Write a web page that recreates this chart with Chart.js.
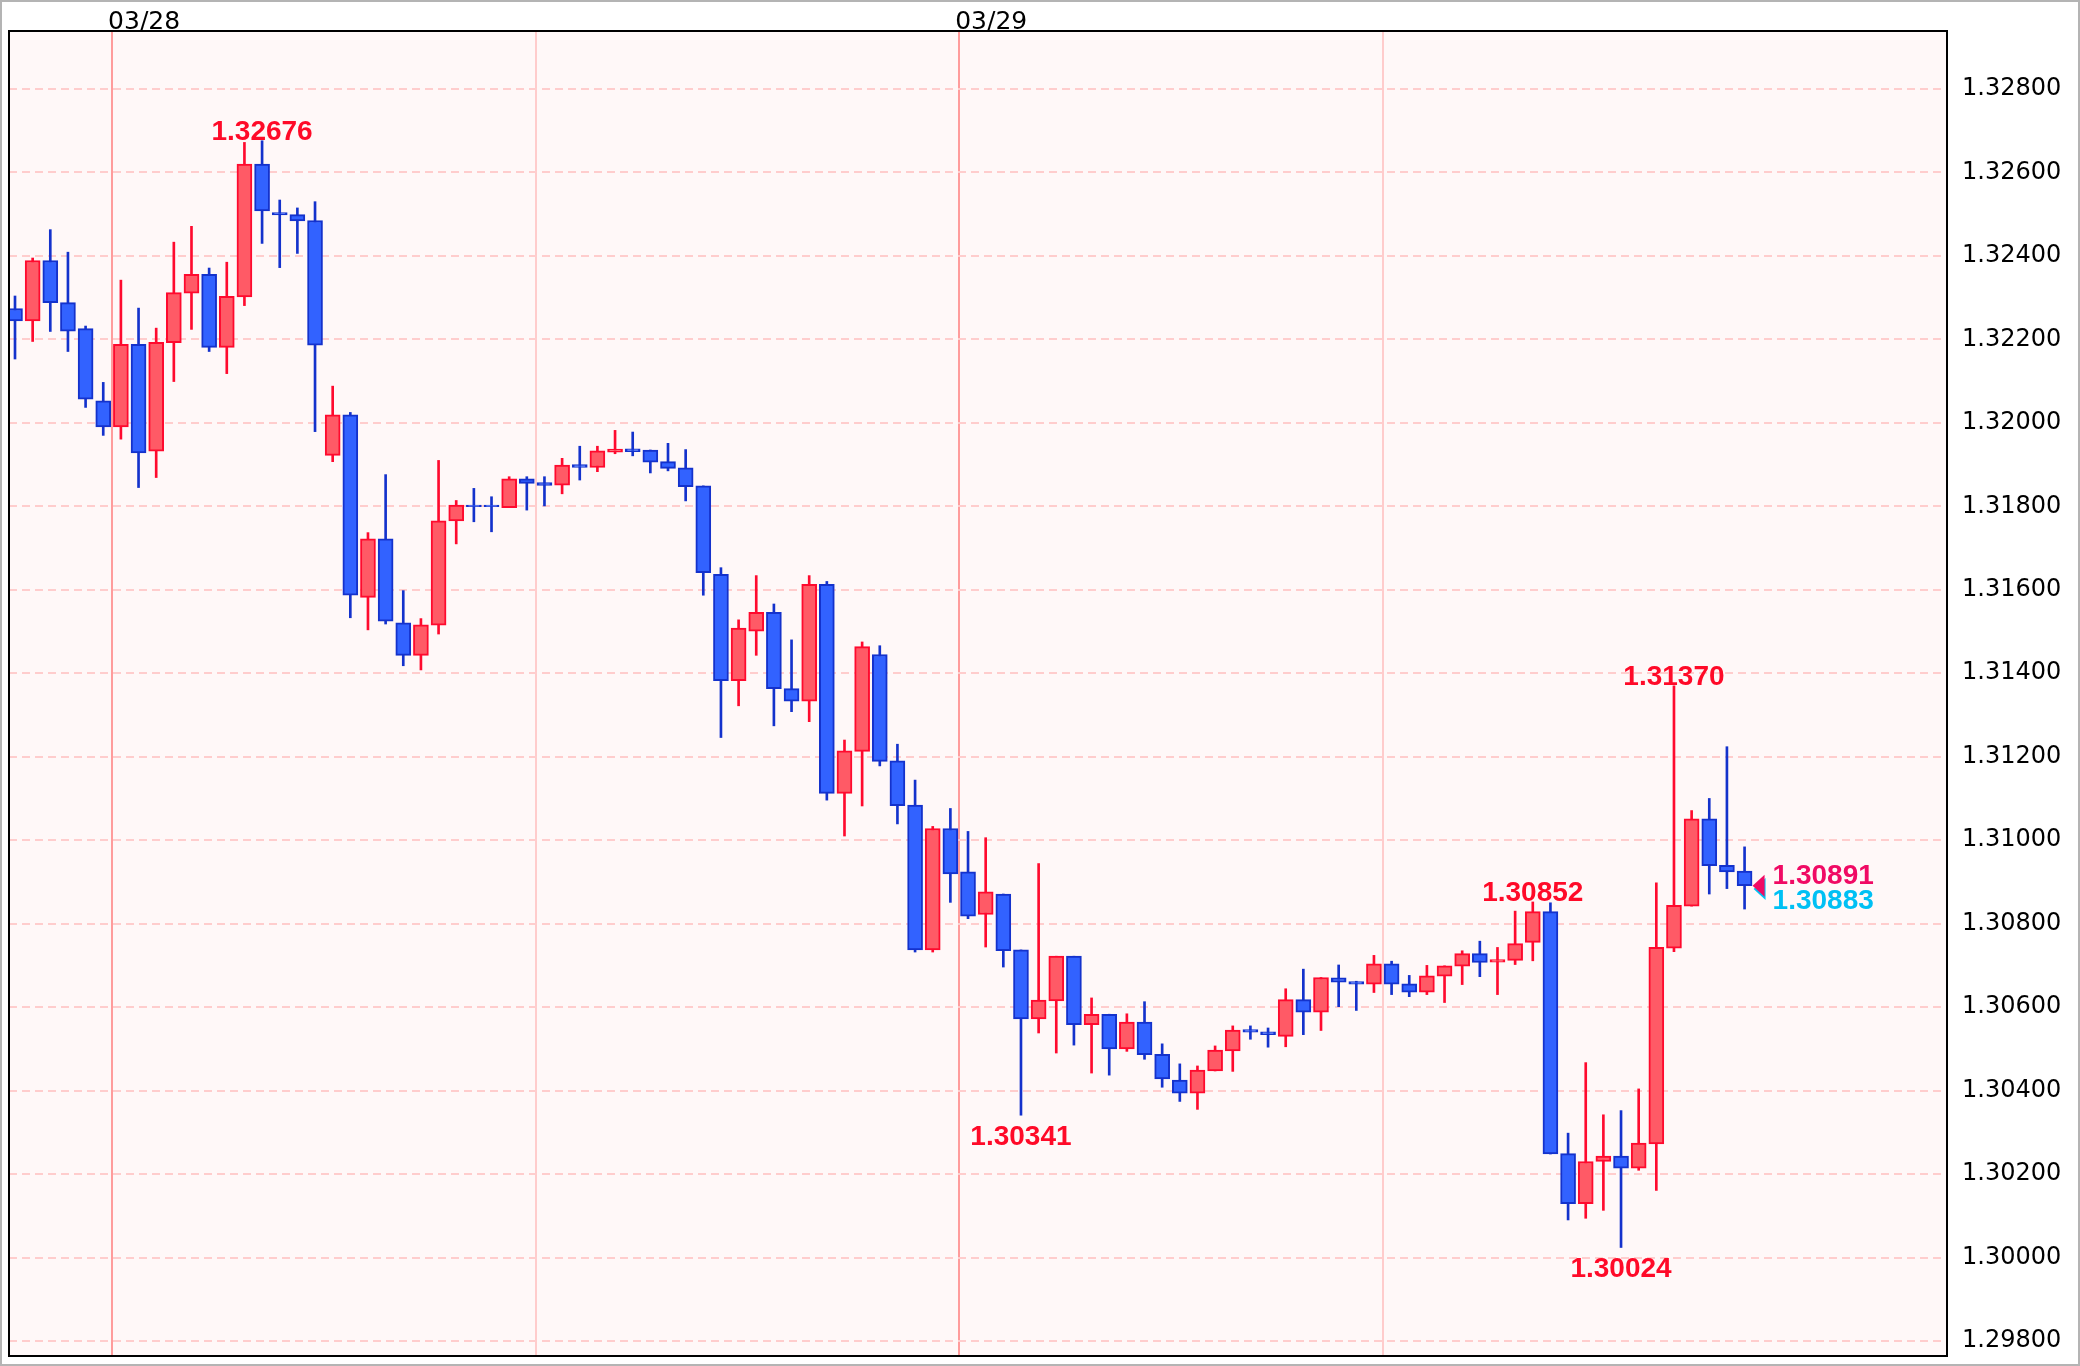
<!DOCTYPE html>
<html>
<head>
<meta charset="utf-8">
<title>GBP/USD 30min</title>
<script src="https://cdn.jsdelivr.net/npm/chart.js@4.4.1/dist/chart.umd.min.js"></script>
<style>
  html, body { margin: 0; padding: 0; background: #fff; }
  canvas { display: block; }
</style>
</head>
<body>
<canvas id="candleChart" width="2080" height="1366"></canvas>
<script>
// 30 minute candles, oldest first
var opens = [1.32274,1.32244,1.32389,1.32288,1.32226,1.32053,1.31990,1.32188,1.31932,1.32192,
  1.32311,1.32356,1.32181,1.32302,1.32620,1.32504,1.32499,1.32485,1.31922,1.32019,
  1.31582,1.31722,1.31521,1.31443,1.31515,1.31765,1.31803,1.31803,1.31797,1.31866,
  1.31857,1.31851,1.31900,1.31893,1.31930,1.31938,1.31935,1.31907,1.31892,1.31849,
  1.31637,1.31382,1.31501,1.31546,1.31363,1.31333,1.31613,1.31112,1.31213,1.31445,
  1.31190,1.31084,1.30737,1.31028,1.30924,1.30822,1.30871,1.30737,1.30572,1.30615,
  1.30722,1.30558,1.30583,1.30500,1.30564,1.30487,1.30425,1.30394,1.30447,1.30495,
  1.30546,1.30541,1.30530,1.30618,1.30588,1.30670,1.30661,1.30655,1.30704,1.30656,
  1.30636,1.30674,1.30698,1.30728,1.30708,1.30712,1.30755,1.30829,1.30249,1.30129,
  1.30230,1.30243,1.30214,1.30272,1.30741,1.30842,1.31051,1.30940,1.30926];
var highs = [1.32304,1.32395,1.32463,1.32409,1.32232,1.32097,1.32342,1.32275,1.32227,1.32433,
  1.32471,1.32371,1.32385,1.32672,1.32676,1.32534,1.32515,1.32530,1.32088,1.32025,
  1.31737,1.31876,1.31598,1.31531,1.31910,1.31814,1.31843,1.31823,1.31871,1.31871,
  1.31871,1.31915,1.31944,1.31944,1.31982,1.31978,1.31935,1.31951,1.31936,1.31849,
  1.31653,1.31528,1.31634,1.31566,1.31480,1.31634,1.31620,1.31240,1.31475,1.31466,
  1.31230,1.31144,1.31033,1.31076,1.31021,1.31006,1.30871,1.30737,1.30944,1.30722,
  1.30722,1.30622,1.30583,1.30584,1.30613,1.30512,1.30464,1.30459,1.30507,1.30555,
  1.30555,1.30550,1.30644,1.30691,1.30671,1.30701,1.30662,1.30724,1.30710,1.30676,
  1.30700,1.30699,1.30735,1.30758,1.30743,1.30830,1.30852,1.30850,1.30298,1.30467,
  1.30342,1.30352,1.30404,1.30898,1.31370,1.31071,1.31100,1.31224,1.30984];
var lows = [1.32153,1.32195,1.32219,1.32171,1.32037,1.31970,1.31961,1.31845,1.31869,1.32099,
  1.32224,1.32171,1.32118,1.32281,1.32430,1.32372,1.32406,1.31979,1.31907,1.31533,
  1.31504,1.31518,1.31418,1.31408,1.31494,1.31710,1.31763,1.31739,1.31797,1.31791,
  1.31801,1.31830,1.31863,1.31883,1.31926,1.31921,1.31880,1.31885,1.31813,1.31587,
  1.31246,1.31322,1.31443,1.31274,1.31308,1.31284,1.31096,1.31010,1.31082,1.31178,
  1.31039,1.30732,1.30732,1.30851,1.30812,1.30744,1.30696,1.30341,1.30538,1.30490,
  1.30509,1.30442,1.30437,1.30494,1.30475,1.30408,1.30374,1.30355,1.30447,1.30446,
  1.30523,1.30504,1.30505,1.30534,1.30544,1.30601,1.30592,1.30635,1.30630,1.30625,
  1.30630,1.30611,1.30654,1.30673,1.30630,1.30702,1.30711,1.30248,1.30090,1.30094,
  1.30113,1.30024,1.30209,1.30161,1.30733,1.30842,1.30871,1.30884,1.30835];
var closes = [1.32244,1.32389,1.32288,1.32220,1.32057,1.31990,1.32188,1.31928,1.32193,1.32312,
  1.32356,1.32181,1.32303,1.32620,1.32508,1.32498,1.32484,1.32186,1.32019,1.31587,
  1.31722,1.31525,1.31443,1.31516,1.31765,1.31803,1.31799,1.31799,1.31866,1.31855,
  1.31850,1.31899,1.31893,1.31933,1.31937,1.31931,1.31906,1.31891,1.31847,1.31641,
  1.31382,1.31508,1.31546,1.31363,1.31333,1.31613,1.31112,1.31214,1.31464,1.31189,
  1.31083,1.30737,1.31028,1.30919,1.30818,1.30876,1.30735,1.30572,1.30617,1.30722,
  1.30558,1.30583,1.30500,1.30564,1.30486,1.30428,1.30394,1.30449,1.30497,1.30545,
  1.30540,1.30534,1.30618,1.30588,1.30671,1.30660,1.30655,1.30704,1.30655,1.30636,
  1.30675,1.30699,1.30728,1.30707,1.30714,1.30752,1.30829,1.30248,1.30129,1.30230,
  1.30243,1.30214,1.30274,1.30743,1.30844,1.31051,1.30939,1.30924,1.30891];

// top axis: day separators (every 24 candles)
var xTickVals = [5.5, 29.5, 53.5, 77.5];
var xTickLabels = ['03/28', '', '03/29', ''];

// right axis
var yTickVals = [1.298,1.300,1.302,1.304,1.306,1.308,1.310,1.312,1.314,1.316,1.318,1.320,1.322,1.324,1.326,1.328];

// swing high/low markers
var markIdx = [14, 57, 86, 91, 94];
var markSide = ['high', 'low', 'high', 'low', 'high'];

// bid / ask at the last candle
var priceVals = [1.30891, 1.30883];
var priceColors = ['#f00a64', '#00c0f4'];

var upBody = '#ff5a66', upLine = '#ff0a2e';
var dnBody = '#3262ff', dnLine = '#1432cc';

var bodies = [], wicks = [], bodyFill = [], lineCol = [];
for (var i = 0; i < opens.length; i++) {
    var up = closes[i] >= opens[i];
    bodies.push({ x: i, y: [opens[i], closes[i]] });
    wicks.push({ x: i, y: [lows[i], highs[i]] });
    bodyFill.push(up ? upBody : dnBody);
    lineCol.push(up ? upLine : dnLine);
}

var paperPlugin = {
    id: 'paper',
    beforeDraw: function(chart) {
        var ctx = chart.ctx, a = chart.chartArea;
        ctx.save();
        ctx.fillStyle = '#fff';
        ctx.fillRect(0, 0, chart.width, chart.height);
        ctx.fillStyle = '#fff8f8';
        ctx.fillRect(a.left, a.top, a.right - a.left, a.bottom - a.top);
        ctx.restore();
    },
    afterDraw: function(chart) {
        var ctx = chart.ctx, a = chart.chartArea;
        var xs = chart.scales.x, ys = chart.scales.y;
        ctx.save();
        // frame
        ctx.strokeStyle = '#000';
        ctx.lineWidth = 2;
        ctx.strokeRect(a.left, a.top, a.right - a.left, a.bottom - a.top);
        ctx.strokeStyle = '#b4b4b4';
        ctx.strokeRect(1, 1, chart.width - 2, chart.height - 2);

        // swing labels
        ctx.font = 'bold 28px "Liberation Sans", Arial, sans-serif';
        ctx.textAlign = 'center';
        ctx.textBaseline = 'alphabetic';
        ctx.fillStyle = '#ff0a28';
        for (var k = 0; k < markIdx.length; k++) {
            var idx = markIdx[k];
            var px = xs.getPixelForValue(idx);
            if (markSide[k] === 'high') {
                ctx.fillText(highs[idx].toFixed(5), px, ys.getPixelForValue(highs[idx]) - 1);
            } else {
                ctx.fillText(lows[idx].toFixed(5), px, ys.getPixelForValue(lows[idx]) + 30);
            }
        }

        // bid / ask markers after the last candle
        var last = opens.length - 1;
        var tipX = xs.getPixelForValue(last) + 8;
        for (var p = priceVals.length - 1; p >= 0; p--) {
            var py = ys.getPixelForValue(priceVals[p]);
            ctx.fillStyle = priceColors[p];
            ctx.beginPath();
            ctx.moveTo(tipX + p, py);
            ctx.lineTo(tipX + 12 + p, py - 11);
            ctx.lineTo(tipX + 12 + p, py + 11);
            ctx.closePath();
            ctx.fill();
        }
        ctx.textAlign = 'left';
        ctx.fillStyle = priceColors[0];
        ctx.textBaseline = 'alphabetic';
        ctx.fillText(priceVals[0].toFixed(5), tipX + 20, ys.getPixelForValue(priceVals[0]) - 2);
        ctx.fillStyle = priceColors[1];
        ctx.fillText(priceVals[1].toFixed(5), tipX + 20, ys.getPixelForValue(priceVals[1]) + 20);
        ctx.restore();
    }
};

var chartCanvas = document.getElementById('candleChart').getContext('2d');
var candleChart = new Chart(chartCanvas, {
    type: 'bar',
    data: {
        datasets: [{
            label: 'body',
            data: bodies,
            order: 0,
            barThickness: 15,
            backgroundColor: bodyFill,
            borderColor: lineCol,
            borderWidth: 2,
            borderSkipped: false,
            grouped: false
        }, {
            label: 'wick',
            data: wicks,
            order: 1,
            barThickness: 2,
            backgroundColor: lineCol,
            borderWidth: 0,
            grouped: false
        }]
    },
    options: {
        responsive: false,
        animation: false,
        devicePixelRatio: 1,
        layout: { padding: { left: 9, right: 0, top: 0, bottom: 10 } },
        plugins: {
            legend: { display: false },
            tooltip: { enabled: false }
        },
        scales: {
            x: {
                type: 'linear',
                position: 'top',
                min: -0.34,
                max: 109.47,
                offset: false,
                afterBuildTicks: function(s) {
                    s.ticks = xTickVals.map(function(v) { return { value: v }; });
                },
                afterFit: function(s) {
                    s.height = 31;
                    s.paddingLeft = 0;
                    s.paddingRight = 0;
                },
                ticks: {
                    autoSkip: false,
                    maxRotation: 0,
                    minRotation: 0,
                    align: 'start',
                    padding: -6,
                    labelOffset: -4,
                    color: '#000',
                    font: { family: 'DejaVu Sans', size: 25 },
                    callback: function(v, i) { return xTickLabels[i]; }
                },
                grid: {
                    offset: false,
                    drawTicks: false,
                    lineWidth: 2,
                    color: function(c) { return c.index % 2 === 0 ? '#ff9c9c' : '#ffcccc'; }
                },
                border: { display: true, color: '#000', width: 2 }
            },
            y: {
                position: 'right',
                min: 1.29764,
                max: 1.32939,
                afterBuildTicks: function(s) {
                    s.ticks = yTickVals.map(function(v) { return { value: v }; });
                },
                afterFit: function(s) {
                    s.width = 133;
                    s.paddingTop = 0;
                    s.paddingBottom = 0;
                },
                ticks: {
                    padding: 15,
                    color: '#000',
                    font: { family: 'DejaVu Sans', size: 24 },
                    callback: function(v) { return v.toFixed(5); }
                },
                grid: {
                    drawTicks: false,
                    lineWidth: 2,
                    color: '#ffcdcd'
                },
                border: { display: true, color: '#000', width: 2, dash: [8, 5] }
            }
        }
    },
    plugins: [paperPlugin]
});
</script>
</body>
</html>
